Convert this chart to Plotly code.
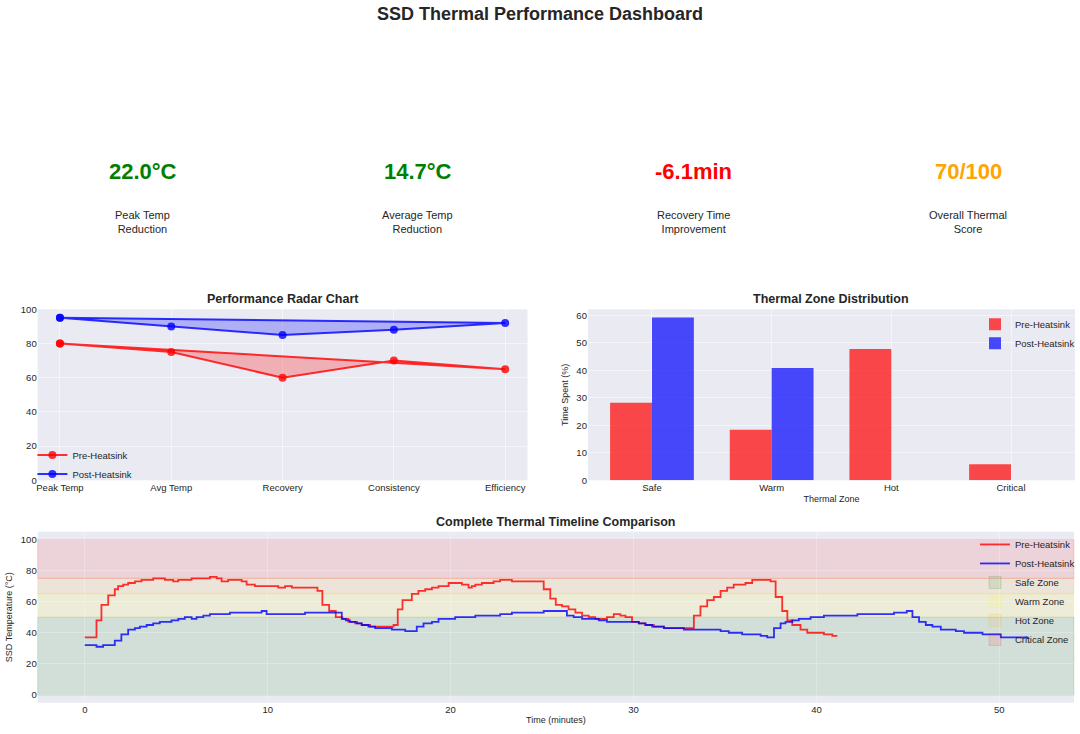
import plotly.graph_objects as go

# headline numbers
kpi_values = ["22.0°C", "14.7°C", "-6.1min", "70/100"]
kpi_labels = ["Peak Temp<br>Reduction", "Average Temp<br>Reduction",
              "Recovery Time<br>Improvement", "Overall Thermal<br>Score"]
kpi_colors = ["green", "green", "red", "orange"]

# radar chart (drawn on a flat axis, closed back to the first point)
radar_categories = ["Peak Temp", "Avg Temp", "Recovery", "Consistency", "Efficiency"]
radar_pre = [80, 75, 60, 70, 65]
radar_post = [95, 90, 85, 88, 92]

# thermal zone distribution (% of time)
zone_names = ["Safe", "Warm", "Hot", "Critical"]
zone_pre = [28.2, 18.4, 47.7, 5.8]
zone_post = [59.2, 40.8, 0, 0]

# timeline: minute at which each reading starts, and the reading (°C)
pre_time = [0, 0.64, 0.91, 1.28, 1.64, 1.82, 2.10, 2.37, 2.74, 3.10, 3.74, 4.38,
            4.83, 5.11, 5.84, 6.84, 7.21, 7.48, 7.84, 8.58, 8.85, 9.30, 10.58,
            10.95, 11.32, 12.72, 12.99, 13.36, 13.72, 14.08, 14.41, 14.78, 15.14,
            15.60, 16.88, 17.11, 17.37, 17.88, 18.24, 18.61, 18.98, 19.34, 19.89,
            20.62, 20.98, 21.16, 21.35, 21.71, 22.35, 22.71, 23.35, 25.09, 25.45,
            25.75, 26.09, 26.45, 26.82, 27.19, 27.55, 27.91, 28.55, 28.92, 29.28,
            29.56, 29.92, 30.29, 30.65, 31.11, 31.66, 33.30, 33.66, 34.03, 34.39,
            34.76, 35.12, 35.48, 36.12, 36.49, 37.49, 37.77, 38.13, 38.41, 38.68,
            39.13, 39.50, 40.41, 40.87, 41.14]
pre_temp = [37, 48, 58, 64, 68, 70, 71, 72, 73, 74, 75, 74,
            73, 74, 75, 76, 75, 73, 74, 73, 71, 70, 69,
            70, 69, 67, 58, 54, 50, 49, 47, 46, 45,
            44, 45, 55, 61, 65, 67, 68, 69, 70, 72,
            71, 69, 70, 71, 72, 73, 74, 73, 68, 62,
            58, 57, 55, 53, 51, 50, 49, 50, 52, 51,
            50, 47, 46, 45, 44, 43, 51, 57, 61, 63,
            67, 69, 71, 72, 74, 73, 63, 54, 48, 45,
            42, 40, 39, 38, 38]

post_time = [0, 0.64, 1.00, 1.64, 2.00, 2.37, 2.74, 3.01, 3.38, 3.74, 4.10, 4.74,
             5.11, 5.47, 5.84, 6.11, 6.48, 6.84, 7.93, 9.67, 9.94, 12.04, 14.05,
             14.27, 14.50, 14.87, 15.14, 15.51, 15.87, 16.79, 17.52, 18.15, 18.52,
             18.98, 19.34, 20.25, 21.35, 22.71, 23.35, 25.09, 26.36, 26.73, 27.19,
             28.10, 28.55, 30.29, 30.65, 31.02, 31.66, 32.75, 34.76, 35.21, 35.94,
             36.95, 37.31, 37.68, 38.04, 38.31, 38.68, 39.04, 39.68, 40.41, 42.24,
             44.24, 44.94, 45.25, 45.61, 45.98, 46.34, 46.80, 47.62, 48.07, 49.08,
             50.08, 51.54]
post_temp = [32, 31, 32, 35, 39, 42, 43, 44, 45, 46, 47, 48,
             49, 50, 49, 50, 51, 52, 53, 54, 52, 53, 49,
             48, 47, 46, 45, 44, 43, 42, 41, 44, 46,
             47, 49, 50, 51, 52, 53, 54, 51, 50, 49,
             48, 47, 46, 45, 44, 43, 42, 41, 40, 39,
             38, 37, 43, 46, 47, 48, 49, 50, 51, 52,
             53, 54, 50, 47, 45, 44, 42, 41, 40, 39,
             37, 36, 36]

zone_bands = [("Safe Zone", 0, 50, "0,128,0"), ("Warm Zone", 50, 65, "255,255,0"),
              ("Hot Zone", 65, 75, "255,165,0"), ("Critical Zone", 75, 100, "255,0,0")]

FONT = "Liberation Sans, Arial, sans-serif"
TXT = "#262626"
GRID = "rgba(255,255,255,0.5)"
GRID_FAINT = "rgba(255,255,255,0.25)"

fig = go.Figure()

# radar
radar_x = list(range(len(radar_categories))) + [0]
for name, vals, rgb in [("Pre-Heatsink", radar_pre, "255,0,0"),
                        ("Post-Heatsink", radar_post, "0,0,255")]:
    closed = vals + vals[:1]
    fig.add_trace(go.Scatter(x=radar_x, y=closed, mode="lines", fill="toself",
                             fillcolor="rgba({},0.25)".format(rgb), line=dict(width=0),
                             showlegend=False, hoverinfo="skip", xaxis="x", yaxis="y"))
    fig.add_trace(go.Scatter(x=radar_x, y=closed, mode="lines+markers", name=name,
                             line=dict(color="rgba({},0.8)".format(rgb), width=2),
                             marker=dict(size=8, color="rgba({},0.8)".format(rgb)),
                             xaxis="x", yaxis="y", legend="legend"))

# zone bars
fig.add_trace(go.Bar(x=zone_names, y=zone_pre, name="Pre-Heatsink",
                     marker=dict(color="rgba(255,0,0,0.7)", line=dict(width=0)),
                     xaxis="x2", yaxis="y2", legend="legend2"))
fig.add_trace(go.Bar(x=zone_names, y=zone_post, name="Post-Heatsink",
                     marker=dict(color="rgba(0,0,255,0.7)", line=dict(width=0)),
                     xaxis="x2", yaxis="y2", legend="legend2"))

# timeline
fig.add_trace(go.Scatter(x=pre_time, y=pre_temp, mode="lines", name="Pre-Heatsink",
                         line=dict(color="rgba(255,0,0,0.8)", width=1.8, shape="hv"),
                         xaxis="x3", yaxis="y3", legend="legend3"))
fig.add_trace(go.Scatter(x=post_time, y=post_temp, mode="lines", name="Post-Heatsink",
                         line=dict(color="rgba(0,0,255,0.8)", width=1.8, shape="hv"),
                         xaxis="x3", yaxis="y3", legend="legend3"))

for name, lo, hi, rgb in zone_bands:
    fig.add_shape(type="rect", xref="x3 domain", x0=0, x1=1, yref="y3", y0=lo, y1=hi,
                  fillcolor="rgba({},0.1)".format(rgb),
                  line=dict(color="rgba({},0.15)".format(rgb), width=1),
                  layer="below", name=name, showlegend=True, legend="legend3")

axis_common = dict(showgrid=True, gridcolor=GRID, gridwidth=1, zeroline=False,
                   showline=False, ticks="", tickfont=dict(size=9.5, color=TXT),
                   automargin=False)

fig.update_layout(
    width=1080, height=734, autosize=False,
    margin=dict(l=0, r=0, t=0, b=0),
    paper_bgcolor="white", plot_bgcolor="#EAEAF2",
    font=dict(family=FONT, color=TXT, size=10),
    barmode="group", bargap=0.3, bargroupgap=0,
    xaxis=dict(axis_common, domain=[0.0349, 0.4884], range=[-0.2, 4.2],
               tickvals=list(range(len(radar_categories))), ticktext=radar_categories,
               anchor="y"),
    yaxis=dict(axis_common, domain=[0.3456, 0.5786], range=[0, 100], dtick=20,
               anchor="x"),
    xaxis2=dict(axis_common, domain=[0.5444, 0.9954], range=[-0.535, 3.535],
                type="category", anchor="y2",
                title=dict(text="Thermal Zone", font=dict(size=9, color=TXT), standoff=3)),
    yaxis2=dict(axis_common, domain=[0.3456, 0.5786], range=[0, 62.16], dtick=10,
                anchor="x2",
                title=dict(text="Time Spent (%)", font=dict(size=9, color=TXT), standoff=6)),
    xaxis3=dict(axis_common, domain=[0.0349, 0.9944], range=[-2.575, 54.08], dtick=10,
                anchor="y3", gridcolor=GRID_FAINT,
                title=dict(text="Time (minutes)", font=dict(size=9, color=TXT), standoff=2)),
    yaxis3=dict(axis_common, domain=[0.0426, 0.2756], range=[-5, 105], dtick=20,
                anchor="x3", gridcolor=GRID_FAINT,
                title=dict(text="SSD Temperature (°C)", font=dict(size=9, color=TXT),
                           standoff=6)),
    legend=dict(x=0.03, y=0.40, xanchor="left", yanchor="top",
                bgcolor="rgba(0,0,0,0)", font=dict(size=9.5, color=TXT),
                tracegroupgap=0),
    legend2=dict(x=1.0, y=0.578, xanchor="right", yanchor="top",
                 bgcolor="rgba(0,0,0,0)", font=dict(size=9.5, color=TXT)),
    legend3=dict(x=1.0, y=0.278, xanchor="right", yanchor="top",
                 bgcolor="rgba(0,0,0,0)", font=dict(size=9.5, color=TXT)),
)

annotations = [
    dict(text="<b>SSD Thermal Performance Dashboard</b>", x=0.5, y=0.981,
         font=dict(size=18, color=TXT)),
    dict(text="<b>Performance Radar Chart</b>", x=0.2616, y=0.5926,
         font=dict(size=12.5, color=TXT)),
    dict(text="<b>Thermal Zone Distribution</b>", x=0.7699, y=0.5926,
         font=dict(size=12.5, color=TXT)),
    dict(text="<b>Complete Thermal Timeline Comparison</b>", x=0.5146, y=0.2888,
         font=dict(size=12.5, color=TXT)),
]
kpi_x = [0.1324, 0.387, 0.6417, 0.8963]
for i in range(len(kpi_values)):
    annotations.append(dict(text="<b>{}</b>".format(kpi_values[i]), x=kpi_x[i], y=0.767,
                            font=dict(size=22, color=kpi_colors[i])))
    annotations.append(dict(text=kpi_labels[i], x=kpi_x[i], y=0.6975,
                            font=dict(size=11, color=TXT)))
for a in annotations:
    a.update(xref="paper", yref="paper", showarrow=False, xanchor="center",
             yanchor="middle", font=dict(a["font"], family=FONT))
fig.update_layout(annotations=annotations)

# drop the page's default body margin so the figure sits at the window corner
fig.write_html("out.html", config={"displayModeBar": False},
               post_script="document.body.style.margin = '0';")
